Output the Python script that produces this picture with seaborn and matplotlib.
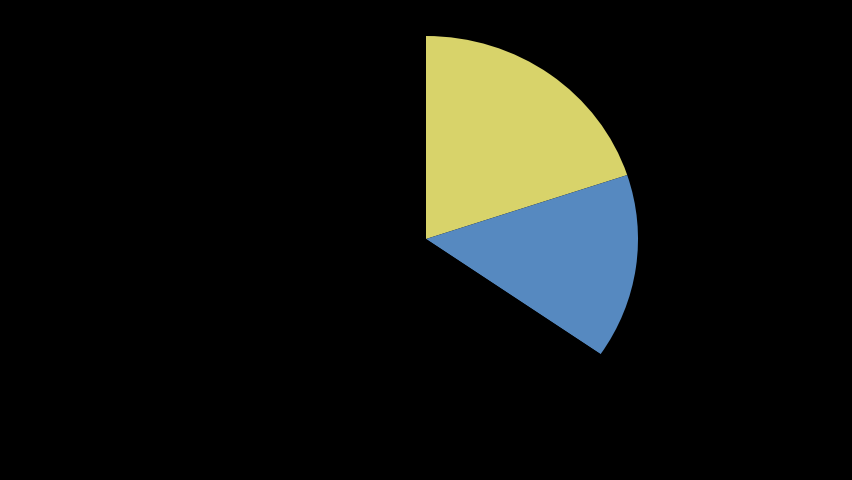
import matplotlib
matplotlib.use('Agg')
import matplotlib.pyplot as plt
import seaborn as sns

# slice shares (percent); the rest is drawn black
labels = ['A', 'B', 'rest']
shares = [19.9, 14.7, 65.4]
colors = ['#D8D36A', '#5689C0', '#000000']

sns.set_theme(style='dark', rc={'figure.facecolor': 'black', 'axes.facecolor': 'black'})

fig = plt.figure(figsize=(8.52, 4.8), dpi=100)
# pie centre at (426, 239) px, radius ~212 px wide and ~203 px tall
ax = fig.add_axes([(426 - 212) / 852, (480 - 239 - 203) / 480, 424 / 852, 406 / 480])
ax.pie(shares, colors=colors, startangle=90, counterclock=False,
       radius=1, wedgeprops={'linewidth': 0, 'edgecolor': 'none'})
ax.set_aspect('auto')
ax.set_xlim(-1, 1)
ax.set_ylim(-1, 1)
ax.axis('off')

fig.savefig('out.png', dpi=100, facecolor='black')
